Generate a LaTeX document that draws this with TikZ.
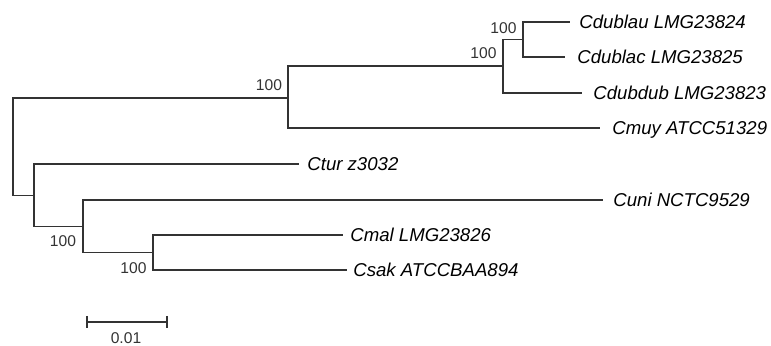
\documentclass[tikz,border=0pt]{standalone}
\usepackage{fontspec}
\setmainfont{Liberation Sans}
\begin{document}
\begin{tikzpicture}[x=0.5pt,y=-0.5pt,
  br/.style={line width=0.65pt, draw=black!80},
  leaf/.style={anchor=west, font=\fontsize{9.3}{11}\selectfont\itshape, inner ysep=0pt, text height=6.66pt, text depth=0pt},
  bs/.style={font=\fontsize{7.8}{9}\selectfont, inner sep=0pt, text height=5.6pt, text depth=0pt, text=black!80}]
\useasboundingbox (0,0) rectangle (771,346);
% internal nodes
\coordinate (R) at (13,146.5);
\coordinate (A) at (288,98);
\coordinate (B) at (503,66);
\coordinate (C) at (523,39.5);
\coordinate (D) at (34,195.5);
\coordinate (E) at (83,226.5);
\coordinate (F) at (153,252.5);
% leaves
\node[leaf, inner xsep=4.5pt] (l1) at (570,22) {Cdublau LMG23824};
\node[leaf, inner xsep=6pt] (l2) at (565,57) {Cdublac LMG23825};
\node[leaf, inner xsep=5.5pt] (l3) at (582,93) {Cdubdub LMG23823};
\node[leaf, inner xsep=6pt] (l4) at (600,128) {Cmuy ATCC51329};
\node[leaf, inner xsep=4pt] (l5) at (299,164) {Ctur z3032};
\node[leaf, inner xsep=5pt] (l6) at (603,200) {Cuni NCTC9529};
\node[leaf, inner xsep=3.5pt] (l7) at (343,235) {Cmal LMG23826};
\node[leaf, inner xsep=3pt] (l8) at (347,270) {Csak ATCCBAA894};
% branches
\draw[br] (R) |- (A);
\draw[br] (R) |- (D);
\draw[br] (A) |- (B);
\draw[br] (A) |- (l4.west);
\draw[br] (B) |- (C);
\draw[br] (B) |- (l3.west);
\draw[br] (C) |- (l1.west);
\draw[br] (C) |- (l2.west);
\draw[br] (D) |- (l5.west);
\draw[br] (D) |- (E);
\draw[br] (E) |- (l6.west);
\draw[br] (E) |- (F);
\draw[br] (F) |- (l7.west);
\draw[br] (F) |- (l8.west);
% bootstrap values
\node[bs] (bA) at (269,85) {100};
\node[bs] (bB) at (483.5,53) {100};
\node[bs] (bC) at (503.5,28) {100};
\node[bs] (bE) at (63,241) {100};
\node[bs] (bF) at (133.5,268) {100};
% scale bar
\coordinate (s1) at (87,322);
\coordinate (s2) at (167,322);
\draw[br] (s1) -- (s2);
\draw[br] (87,316) -- (87,328);
\draw[br] (167,316) -- (167,328);
\node[bs] (sl) at (126,338) {0.01};
\end{tikzpicture}
\end{document}
